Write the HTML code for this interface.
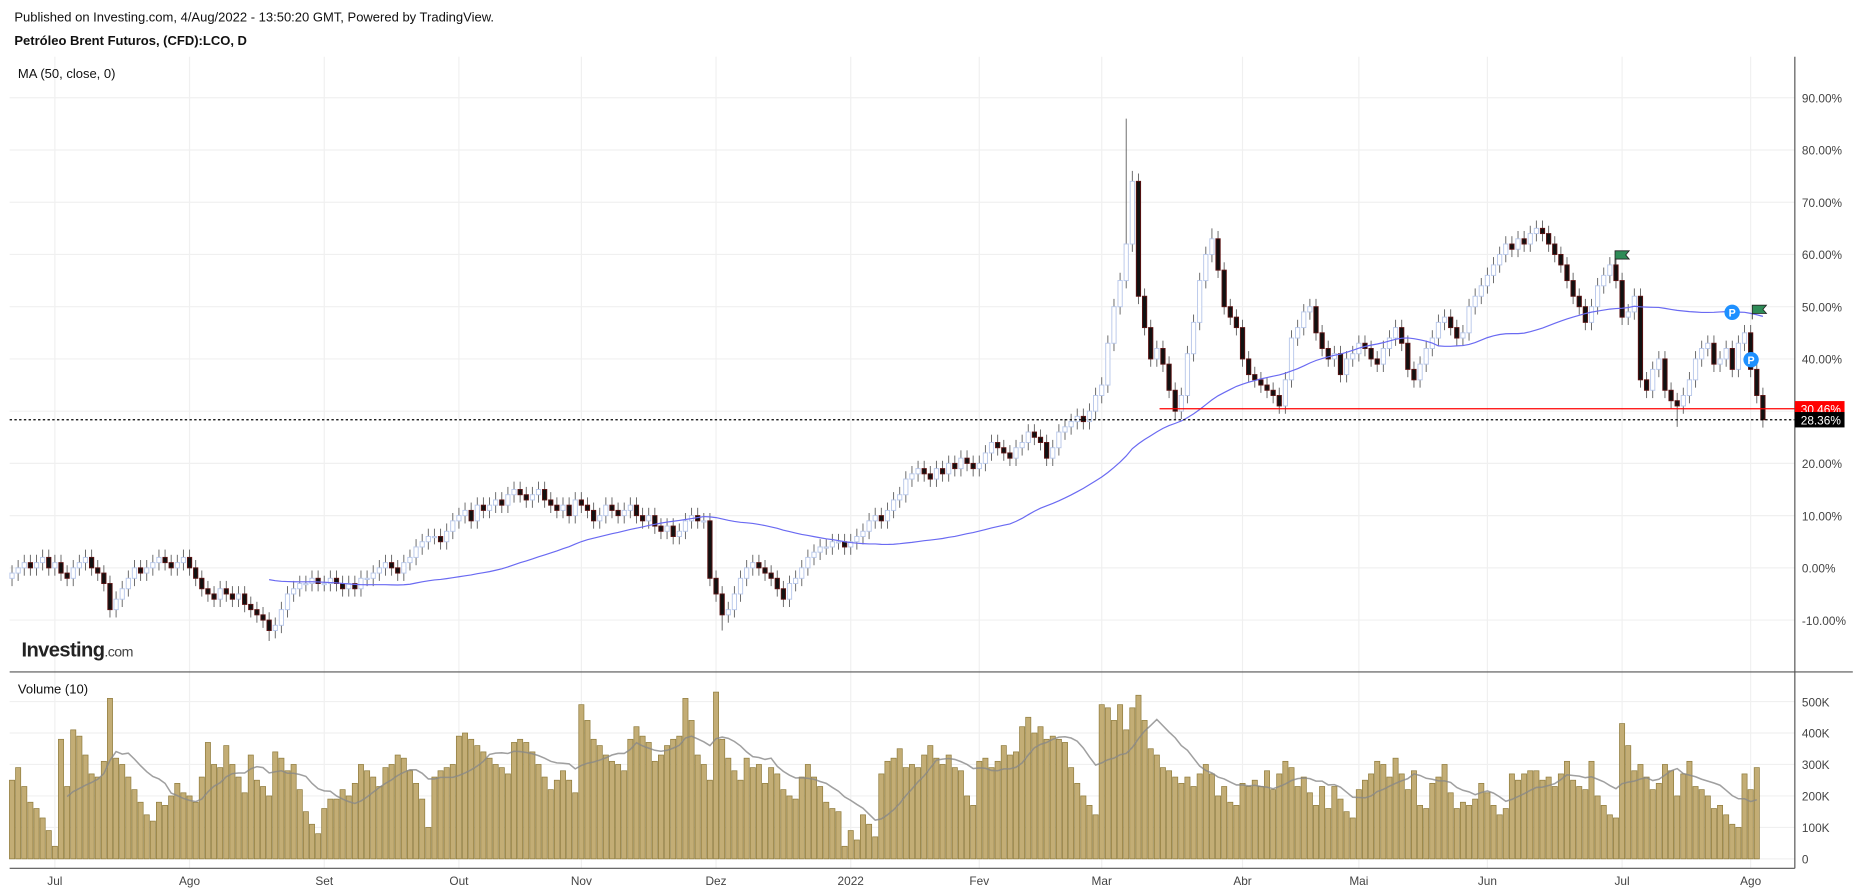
<!DOCTYPE html>
<html><head><meta charset="utf-8"><style>
html,body{margin:0;padding:0;background:#fff;overflow:hidden}
svg{display:block;font-family:"Liberation Sans",sans-serif}
</style></head><body>
<svg id="c" width="1853" height="892" viewBox="0 0 1566 754" xmlns="http://www.w3.org/2000/svg">
<text x="12" y="18" font-size="11" fill="#111">Published on Investing.com, 4/Aug/2022 - 13:50:20 GMT, Powered by TradingView.</text>
<text x="12" y="38" font-size="11" font-weight="bold" fill="#111">Petróleo Brent Futuros, (CFD):LCO, D</text>
<g id="grid"></g>
<g id="vol"></g>
<g id="candles"></g>
<g id="lines"></g>
<text x="15" y="66" font-size="11" fill="#111">MA (50, close, 0)</text>
<text x="15" y="586" font-size="11" fill="#111">Volume (10)</text>
<text x="18" y="555" font-size="17" font-weight="bold" fill="#222" letter-spacing="-0.5">Investing<tspan font-size="12" font-weight="normal" fill="#444">.com</tspan></text>
</svg>
<script>
const closes=[-1,0,1,0,1,2,0,1,-1,-2,0,1,2,0,-1,-3,-8,-6,-4,-2,0,-1,0,1,2,1,0,1,2,
0,-2,-4,-5,-6,-4,-5,-6,-5,-7,-8,-9,-10,-12,-11,-8,-5,-4,-3,-3,-2,-3,
-3,-2,-3,-4,-3,-4,-2,-2,-1,0,1,0,-1,1,2,4,5,6,6,5,7,9,
10,11,9,12,11,12,13,12,14,15,14,13,14,15,13,12,11,12,10,13,
12,11,9,10,12,11,10,11,12,10,9,10,8,7,8,6,7,9,10,9,9,-2,
-5,-9,-8,-5,-2,0,1,0,-1,-2,-4,-6,-3,-2,0,2,3,4,4,5,5,4,
5,6,7,9,10,9,11,13,14,17,18,19,18,17,19,18,20,19,21,20,19,
20,22,24,23,22,21,23,24,26,25,24,21,23,26,27,28,29,28,30,33,
35,43,50,55,62,74,52,46,40,42,39,34,30,33,41,47,55,60,63,57,50,48,46,
40,37,36,35,34,33,31,36,44,46,49,50,45,42,40,41,37,40,41,
43,42,40,39,42,44,46,43,38,36,39,42,44,47,48,46,44,45,50,52,54,
56,58,60,62,61,63,62,64,65,64,62,60,58,55,52,50,47,50,54,56,58,55,
48,49,52,36,34,38,40,34,32,31,33,36,40,42,43,39,40,42,38,43,45,
38,33,28.36];
// notable wick extremes: [bar index, value %]
const spikeHighs=[[182,86],[183,76],[196,65],[263,53]];
const spikeLows=[[42,-14],[116,-12],[272,27]];
const volumes=[250,290,230,180,160,130,90,40,380,230,410,390,330,270,260,310,510,320,300,260,220,180,140,120,180,170,200,240,210,
200,180,260,370,300,290,360,300,260,210,330,250,230,200,340,320,280,300,220,150,110,80,
160,190,190,220,200,240,300,280,260,230,290,300,330,320,280,240,190,100,260,280,290,300,
390,400,380,360,340,320,300,290,270,370,380,370,340,300,260,220,250,280,250,210,
490,440,380,360,330,310,300,280,380,420,390,370,310,330,360,380,390,510,440,330,300,250,
530,380,320,280,250,320,290,300,240,290,270,220,200,190,260,300,260,230,180,160,150,40,
90,60,140,110,70,270,310,320,350,290,300,290,330,360,320,300,330,290,280,200,170,
310,320,290,310,360,330,340,420,450,400,420,380,390,380,370,290,240,200,170,140,
490,480,440,490,410,480,520,440,350,330,290,280,260,240,260,230,270,300,270,200,230,180,170,
240,230,250,230,280,220,270,310,290,230,260,210,170,230,160,230,190,150,130,
220,250,270,310,300,260,320,270,220,280,170,160,240,260,300,210,160,180,170,190,240,
210,170,140,160,270,250,270,280,280,250,260,230,270,310,250,230,220,310,200,170,140,
130,430,360,280,300,260,220,240,300,280,200,270,310,230,220,200,160,170,140,110,100,
270,220,290];
const yTicks=[90,80,70,60,50,40,30,20,10,0,-10];
const volTicks=[500,400,300,200,100,0];
const monthLabels=["Jul","Ago","Set","Out","Nov","Dez","2022","Fev","Mar","Abr","Mai","Jun","Jul","Ago"];
const monthIdx=[7,29,51,73,93,115,137,158,178,201,220,241,263,284];
const lastPrice=28.36, resistance=30.46;

const NS="http://www.w3.org/2000/svg",svg=document.getElementById('c');
const X0=10,X1=1490,AX=1517,N=closes.length;
const xs=i=>X0+i*(X1-X0)/(N-1);
const ys=p=>480-p*4.415;
const vy=v=>726-v*0.266;
function el(t,a,p){const e=document.createElementNS(NS,t);for(const k in a)e.setAttribute(k,a[k]);(p||svg).appendChild(e);return e;}
const grid=document.getElementById('grid'),vol=document.getElementById('vol'),cg=document.getElementById('candles'),lg=document.getElementById('lines');
yTicks.forEach(t=>{const l=el('line',{x1:8,x2:AX,y1:ys(t),y2:ys(t),stroke:'#f0f0f0'},grid);
 const tk=el('text',{x:AX+6,y:ys(t)+4,'font-size':10,fill:'#444'});tk.textContent=t.toFixed(2)+'%';});
volTicks.forEach(t=>{const l=el('line',{x1:8,x2:AX,y1:vy(t),y2:vy(t),stroke:'#f0f0f0'},grid);
 const tk=el('text',{x:AX+6,y:vy(t)+4,'font-size':10,fill:'#444'});tk.textContent=t?t+'K':'0';});
monthLabels.forEach((m,k)=>{const x=xs(monthIdx[k]);const l=el('line',{x1:x,x2:x,y1:48,y2:734,stroke:'#f0f0f0'},grid);
 const tk=el('text',{x:x,y:748,'font-size':10,fill:'#444','text-anchor':'middle'});tk.textContent=m;});
[[AX,48,AX,734],[8,568,1566,568],[8,734,AX,734]].forEach(a=>{const l=el('line',{x1:a[0],y1:a[1],x2:a[2],y2:a[3],stroke:'#555'});});
const bw=(X1-X0)/(N-1);
volumes.forEach((v,i)=>{const r=el('rect',{x:xs(i)-bw/2+0.4,y:vy(v),width:bw-0.8,height:726-vy(v),fill:'#c3ad75',stroke:'#8f7b3c','stroke-width':0.6},vol);});
let vp='';volumes.forEach((v,i)=>{if(i<9)return;let s=0;for(let j=i-9;j<=i;j++)s+=volumes[j];vp+=(vp?'L':'M')+xs(i)+' '+vy(s/10);});
const vm=el('path',{d:vp,fill:'none',stroke:'#888','stroke-width':1.3,opacity:0.8},lg);
const hiMap={},loMap={};spikeHighs.forEach(s=>hiMap[s[0]]=s[1]);spikeLows.forEach(s=>loMap[s[0]]=s[1]);
closes.forEach((c,i)=>{const o=i?closes[i-1]:c-1;let hi=Math.max(o,c)+1.5,lo=Math.min(o,c)-1.5;
 if(hiMap[i]!==undefined)hi=Math.max(hi,hiMap[i]);if(loMap[i]!==undefined)lo=Math.min(lo,loMap[i]);const x=xs(i);
 const w=el('line',{x1:x,x2:x,y1:ys(hi),y2:ys(lo),stroke:'#666','stroke-width':0.8},cg);
 const up=c>=o;const t=ys(Math.max(o,c)),b=ys(Math.min(o,c));
 const r=el('rect',{x:x-1.8,y:t,width:3.6,height:Math.max(1,b-t),fill:up?'#fff':'#111',stroke:up?'#b9c8ea':'#5a1212','stroke-width':0.8},cg);});
let mp='';closes.forEach((c,i)=>{if(i<42)return;const st=Math.max(0,i-49);let s=0;for(let j=st;j<=i;j++)s+=closes[j];mp+=(mp?'L':'M')+xs(i)+' '+ys(s/(i-st+1));});
const ma=el('path',{d:mp,fill:'none',stroke:'#6a6af2','stroke-width':1},lg);
const rl=el('line',{x1:980,x2:AX,y1:ys(resistance),y2:ys(resistance),stroke:'#f00','stroke-width':1},lg);
const pl=el('line',{x1:8,x2:AX,y1:ys(lastPrice),y2:ys(lastPrice),stroke:'#000','stroke-width':1,'stroke-dasharray':'2,2'},lg);
[[resistance,'#f00'],[lastPrice,'#000']].forEach(a=>{const r=el('rect',{x:AX,y:ys(a[0])-6.5,width:42,height:13,fill:a[1]});
 const t=el('text',{x:AX+5,y:ys(a[0])+4,'font-size':10,fill:'#fff'});t.textContent=a[0].toFixed(2)+'%';});
[[1365,212],[1481,258]].forEach(p=>{const f=el('path',{d:`M${p[0]} ${p[1]+12}V${p[1]}h12l-3 3.5 3 3.5h-12`,fill:'#2e8b57',stroke:'#222','stroke-width':0.7},lg);});
[[1464,264],[1480,304]].forEach(p=>{const c=el('circle',{cx:p[0],cy:p[1],r:6.5,fill:'#1e90ff'},lg);
 const t=el('text',{x:p[0],y:p[1]+3.5,'font-size':9,'font-weight':'bold',fill:'#fff','text-anchor':'middle'},lg);t.textContent='P';});
</script>
</body></html>
